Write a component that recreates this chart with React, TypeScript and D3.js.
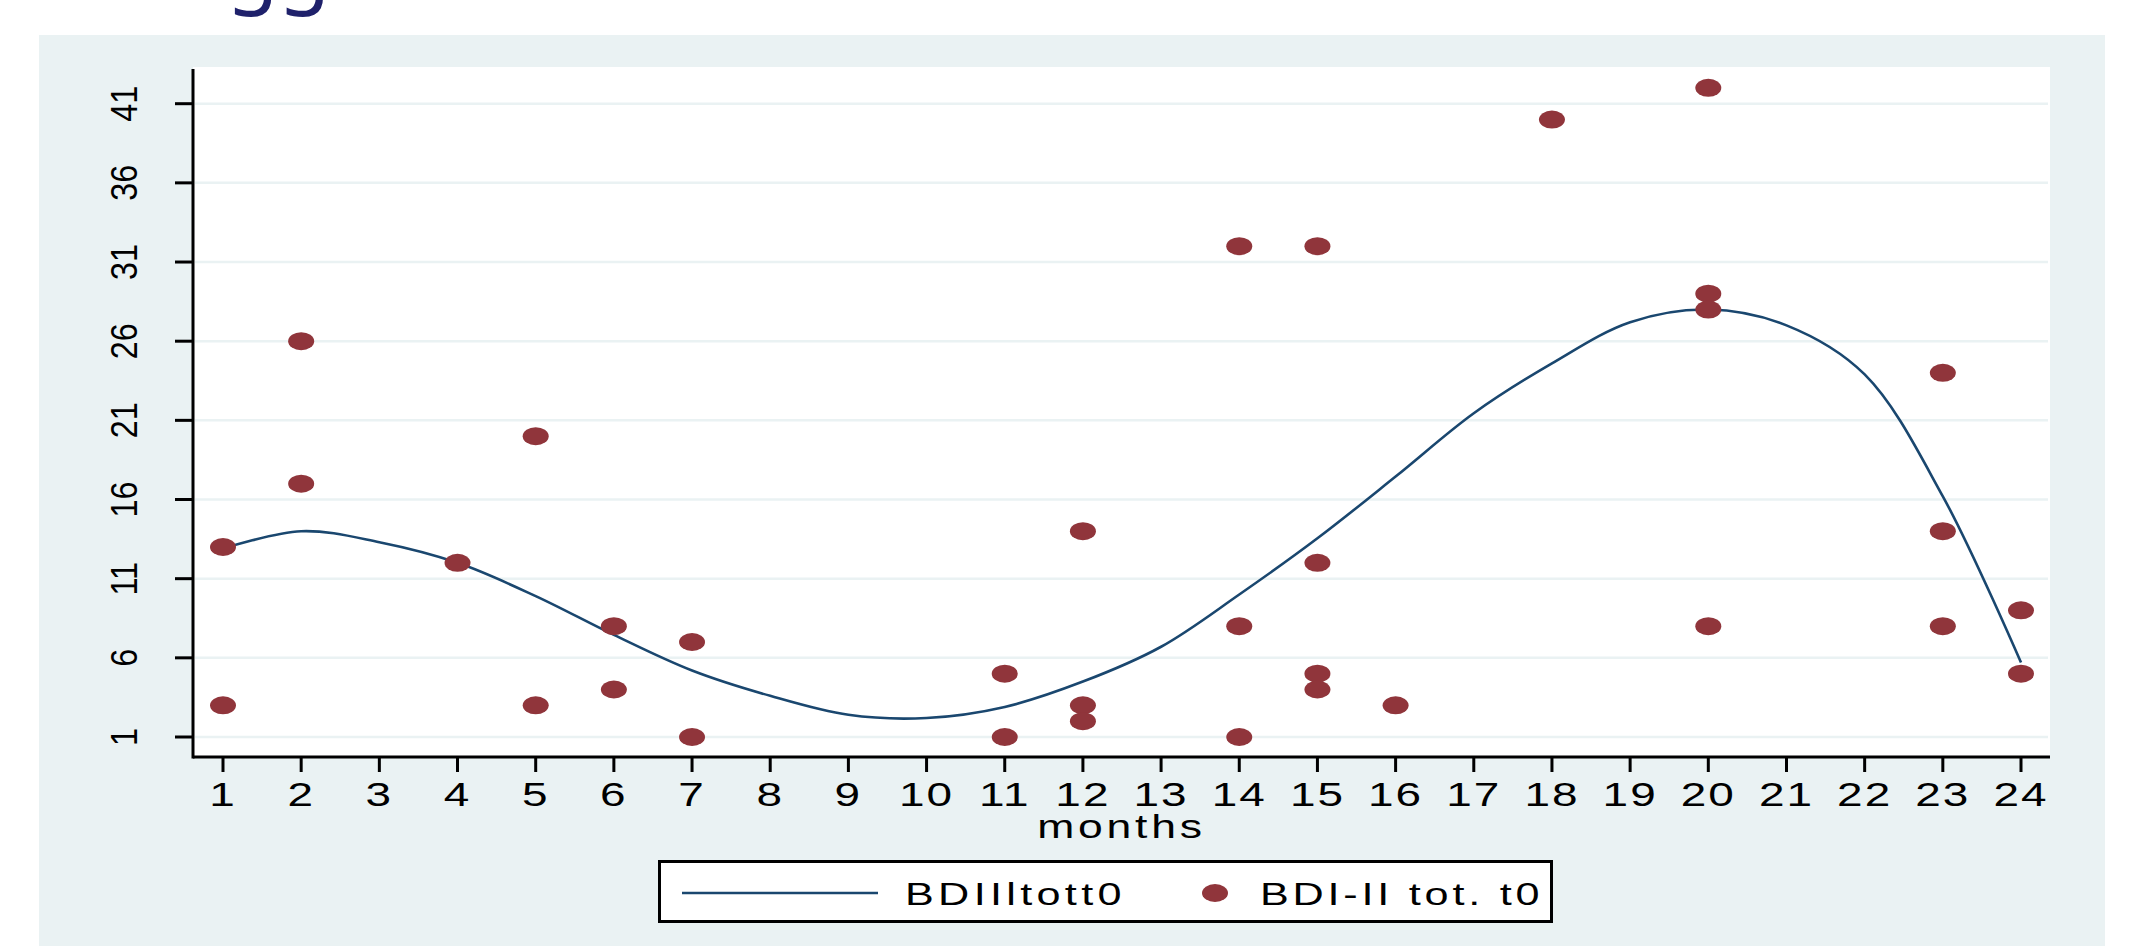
import React from "react";
import * as d3 from "d3";

// ---- data ----
const pointMonths = [1, 1, 2, 2, 4, 5, 5, 6, 6, 7, 7, 11, 11, 12, 12, 12, 14, 14, 14, 15, 15, 15, 15, 16, 18, 20, 20, 20, 20, 23, 23, 23, 24, 24];
const pointValues = [13, 3, 26, 17, 12, 20, 3, 8, 4, 7, 1, 5, 1, 14, 3, 2, 32, 8, 1, 32, 12, 5, 4, 3, 40, 42, 29, 28, 8, 24, 14, 8, 9, 5];

const fitMonths = [1, 2, 3, 4, 5, 6, 7, 8, 9, 10, 11, 12, 13, 14, 15, 16, 17, 18, 19, 20, 21, 22, 23, 24];
const fitValues = [12.9, 14.0, 13.3, 12.0, 9.9, 7.45, 5.2, 3.6, 2.4, 2.2, 2.9, 4.5, 6.7, 10.0, 13.55, 17.45, 21.45, 24.6, 27.2, 28.0, 27.0, 23.9, 16.2, 5.7];

const xTicks = d3.range(1, 25);
const yTicks = [1, 6, 11, 16, 21, 26, 31, 36, 41];

const xTitle = "months";
const lineLabel = "BDIIltott0";
const pointLabel = "BDI-II tot. t0";
const headerFragment = "ogg";

// ---- styles ----
const W = 2129;
const H = 946;
const NAVY = "#1A476F";
const MAROON = "#90353B";
const PANEL = "#EAF2F3";
const FONT = "'Liberation Sans', Arial, sans-serif";

export default function App() {
  const plot = { left: 193, top: 67, right: 2050, bottom: 757 };
  const x = d3.scaleLinear().domain([1, 24]).range([223, 2021]);
  const y = d3.scaleLinear().domain([1, 41]).range([737, 103.7]);

  const line = d3
    .line<number>()
    .x((_, i) => x(fitMonths[i]))
    .y((d) => y(d))
    .curve(d3.curveCatmullRom.alpha(0.5));

  const textScale = 1.35;

  return (
    <svg
      width={W}
      height={H}
      style={{ position: "absolute", left: 0, top: 0, display: "block" }}
      xmlns="http://www.w3.org/2000/svg"
    >
      <rect x={0} y={0} width={W} height={H} fill="#ffffff" />
      {/* cut-off header */}
      <text x={176} y={-3} fontFamily="'Noto Sans', 'Open Sans', sans-serif" fontSize={84} fill="#1F216B">
        {headerFragment}
      </text>
      {/* graph region */}
      <rect x={39} y={35} width={2066} height={H - 35} fill={PANEL} />
      {/* plot region */}
      <rect x={plot.left} y={plot.top} width={plot.right - plot.left} height={plot.bottom - plot.top} fill="#ffffff" />

      {/* grid lines */}
      {yTicks.map((t) => (
        <line key={"g" + t} x1={plot.left + 2} x2={plot.right - 2} y1={y(t)} y2={y(t)} stroke={PANEL} strokeWidth={2.5} />
      ))}

      {/* fitted line */}
      <path d={line(fitValues) || ""} fill="none" stroke={NAVY} strokeWidth={2.6} />

      {/* points */}
      {pointValues.map((v, i) => (
        <ellipse key={"p" + i} cx={x(pointMonths[i])} cy={y(v)} rx={13} ry={9} fill={MAROON} />
      ))}

      {/* axes */}
      <line x1={plot.left} x2={plot.left} y1={69} y2={plot.bottom + 1.5} stroke="#000" strokeWidth={3} />
      <line x1={plot.left} x2={plot.right} y1={plot.bottom} y2={plot.bottom} stroke="#000" strokeWidth={3} />

      {/* y ticks and labels */}
      {yTicks.map((t) => (
        <g key={"yt" + t}>
          <line x1={175} x2={plot.left} y1={y(t)} y2={y(t)} stroke="#000" strokeWidth={3} />
          <text
            transform={`translate(137,${y(t)}) rotate(-90) scale(0.95,1.1)`}
            textAnchor="middle"
            fontFamily={FONT}
            fontSize={34}
            fill="#000"
          >
            {t}
          </text>
        </g>
      ))}

      {/* x ticks and labels */}
      {xTicks.map((t) => (
        <g key={"xt" + t}>
          <line x1={x(t)} x2={x(t)} y1={plot.bottom} y2={plot.bottom + 15} stroke="#000" strokeWidth={3} />
          <text
            transform={`translate(${x(t)},806) scale(${textScale},1)`}
            textAnchor="middle"
            fontFamily={FONT}
            fontSize={34}
            letterSpacing={1.5}
            fill="#000"
          >
            {t}
          </text>
        </g>
      ))}

      {/* x title */}
      <text
        transform={`translate(${(plot.left + plot.right) / 2},838) scale(${textScale},1)`}
        textAnchor="middle"
        fontFamily={FONT}
        fontSize={33}
        letterSpacing={2.8}
        fill="#000"
      >
        {xTitle}
      </text>

      {/* legend */}
      <rect x={659.5} y={861.5} width={892} height={60} fill="#fff" stroke="#000" strokeWidth={3} />
      <line x1={682} x2={878} y1={893} y2={893} stroke={NAVY} strokeWidth={2.6} />
      <text
        transform={`translate(905,905) scale(${textScale},1)`}
        fontFamily={FONT}
        fontSize={32}
        letterSpacing={3.2}
        fill="#000"
      >
        {lineLabel}
      </text>
      <ellipse cx={1215} cy={893} rx={13} ry={9} fill={MAROON} />
      <text
        transform={`translate(1260,905) scale(${textScale},1)`}
        fontFamily={FONT}
        fontSize={32}
        letterSpacing={2.8}
        fill="#000"
      >
        {pointLabel}
      </text>
    </svg>
  );
}
